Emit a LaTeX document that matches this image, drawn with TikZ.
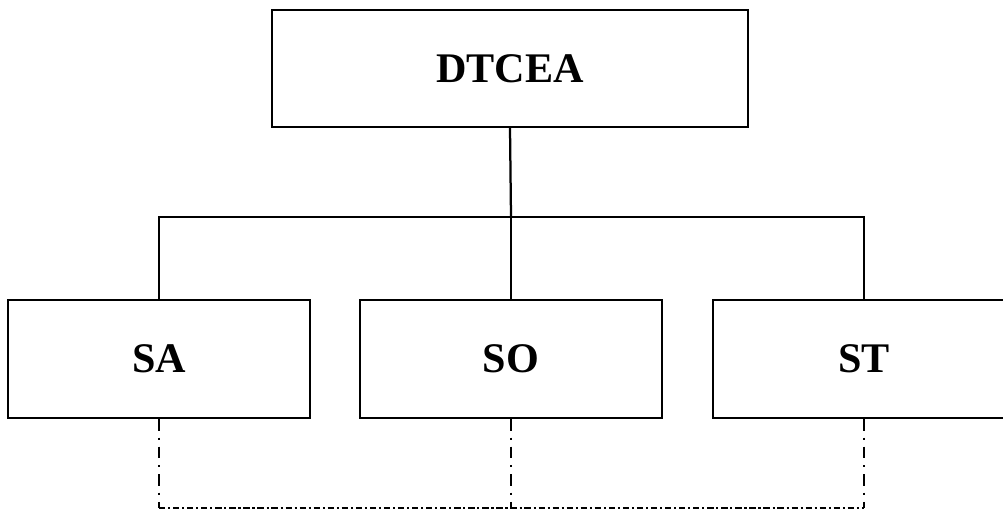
\documentclass[tikz,border=0pt]{standalone}
\usepackage{fontspec}
\setmainfont{Liberation Serif}
\tikzstyle{unit}=[rectangle, draw, line width=0.045cm, minimum width=6.04cm, minimum height=2.36cm, font=\fontsize{24}{28}\selectfont\bfseries]
\tikzstyle{link}=[line width=0.045cm]
\tikzstyle{coord}=[line width=0.045cm, dash pattern=on 6.5pt off 4pt on 1.2pt off 4pt]
\tikzstyle{coordh}=[line width=0.045cm, dash pattern=on 3.6pt off 1.6pt on 1.2pt off 1.6pt]
\newcommand{\unit}{\node[unit]}

\begin{document}
\begin{tikzpicture}[x=0.02cm, y=-0.02cm]
\clip (0,0) rectangle (1003,510);
%head
\unit[minimum width=9.52cm, minimum height=2.34cm] (dtcea) at (510,68.5){DTCEA};
%sections
\foreach \n/\x in {SA/159, SO/511, ST/864}{
	\unit (\n) at (\x,359){\n};
	\coordinate (\n-base) at (\x,508);}
\coordinate (hub) at (511,217);
%hierarchy
\draw[link] (dtcea.south) -- (hub);
\draw[link] (SA.north) |- (hub) -| (ST.north);
\draw[link] (hub) -- (SO.north);
%coordination
\foreach \n in {SA, SO, ST}{
	\draw[coord] (\n.south) -- (\n-base);}
\draw[coordh] (SA-base) -- (ST-base);
\end{tikzpicture}
\end{document}
